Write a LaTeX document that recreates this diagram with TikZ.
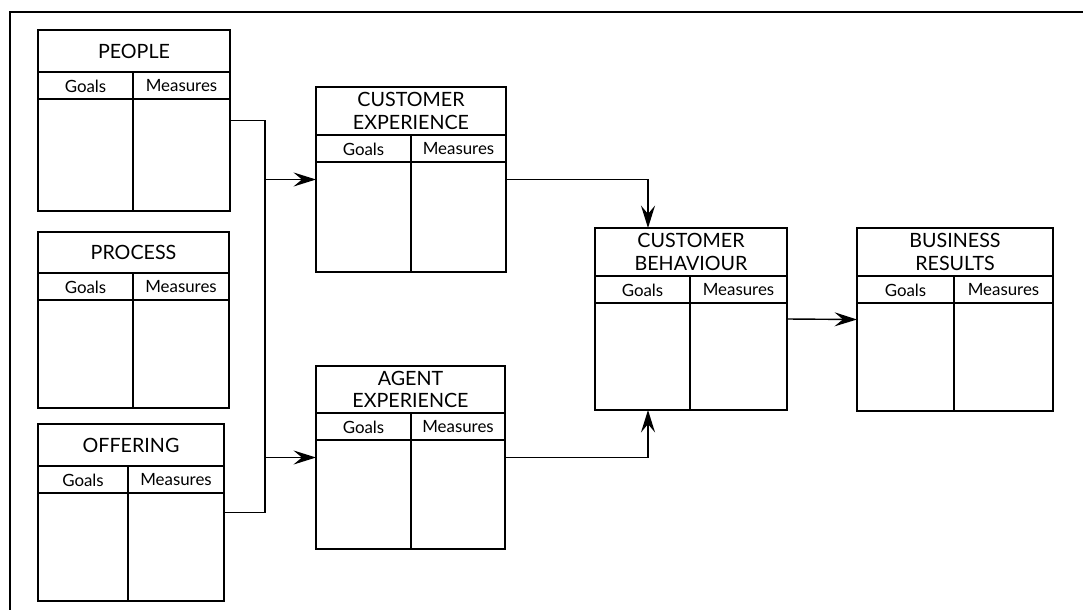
\documentclass[tikz,border=0pt]{standalone}
\usepackage{fontspec}
\setmainfont{Lato}
\usetikzlibrary{arrows.meta,calc}

\tikzset{
  card/.style={draw, line width=1.1pt, inner sep=0pt, outer sep=0pt, anchor=north west},
  cardline/.style={line width=1.1pt},
  cardtitle/.style={align=center, inner sep=0pt, font=\fontsize{14pt}{16pt}\selectfont},
  cardhead/.style={inner sep=0pt, font=\fontsize{12pt}{14pt}\selectfont},
  wire/.style={line width=1pt},
  link/.style={line width=1pt, -{Stealth[length=16pt,width=10pt,inset=6pt]}},
}

\begin{document}
\begin{tikzpicture}[x=0.025cm, y=-0.025cm]
    \useasboundingbox (0,0) rectangle (1083,610);

    % Frame (top and left edge only)
    \draw[line width=1pt] (10,610) -- (10,12) -- (1083,12);

    % Cards: name / left / top / width / height / title row / divider / title
    \foreach \n/\px/\py/\w/\h/\t/\d/\txt in {
        people/38/30/192/181/42/95/PEOPLE,
        process/38/232/191/176/41/95/PROCESS,
        offering/38/424/186/177/42/90/OFFERING,
        ce/316/87/190/185/48/95/{CUSTOMER\\EXPERIENCE},
        ae/316/366/189/183/47/95/{AGENT\\EXPERIENCE},
        cb/595/228/192/182/48/95/{CUSTOMER\\BEHAVIOUR},
        br/857/228/196/183/48/97/{BUSINESS\\RESULTS}} {
      \node[card, minimum width=\w*0.025cm, minimum height=\h*0.025cm] (\n) at (\px,\py) {};
      \draw[cardline] ($(\n.north west)+(0,\t)$) -- ++(\w,0);
      \draw[cardline] ($(\n.north west)+(0,\t+27)$) -- ++(\w,0);
      \draw[cardline] ($(\n.north west)+(\d,\t)$) -- ($(\n.south west)+(\d,0)$);
      \node[cardtitle] (\n-title) at ($(\n.north west)+(\w/2,\t/2)$) {\txt};
      \node[cardhead] (\n-goals) at ($(\n.north west)+(\d/2,\t+14)$) {Goals};
      \node[cardhead] (\n-measures) at ($(\n.north west)+(\d/2+\w/2,\t+14)$) {Measures};
    }

    % Bus from the three inputs
    \coordinate (bus) at (265,0);
    \draw[wire] (people.east) -- (people.east -| bus) -- (offering.east -| bus) -- (offering.east);
    \draw[link] (ce.west -| bus) -- (ce.west);
    \draw[link] (ae.west -| bus) -- (ae.west);

    % Experiences into behaviour, behaviour into results
    \coordinate (drop) at (648,0);
    \draw[link] (ce.east) -| (drop |- cb.north);
    \draw[link] (ae.east) -| (drop |- cb.south);
    \draw[link] (cb.east) -- (br.west);
\end{tikzpicture}
\end{document}
